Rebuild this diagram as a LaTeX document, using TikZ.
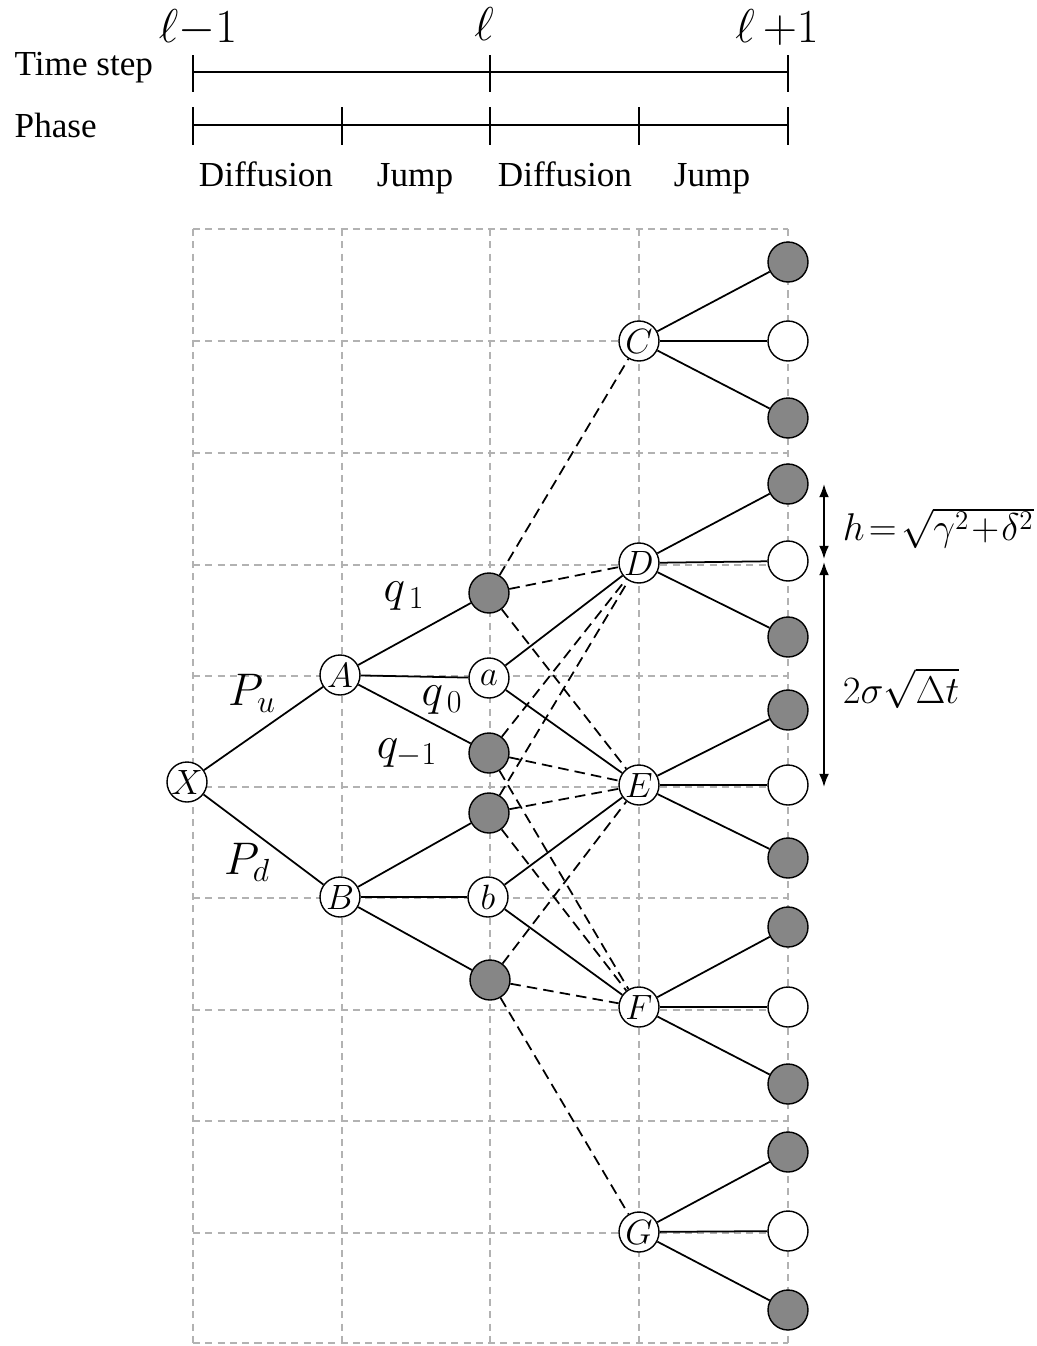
\documentclass[tikz,border=0pt]{standalone}
\usepackage{fix-cm}
\usepackage{fontspec}
\setmainfont{Liberation Serif}
\usetikzlibrary{arrows.meta}

\begin{document}
\begin{tikzpicture}[x=0.02cm, y=-0.02cm, >=Latex, line width=1pt]
\tikzset{grd/.style={draw=gray!60, dashed, dash pattern=on 4pt off 3pt, line width=0.6pt}, state/.style={circle, draw, fill=white, minimum size=0.8cm, inner sep=0pt, line width=0.8pt, font=\fontsize{20}{20}\selectfont}, dark/.style={state, fill=gray!95}, light/.style={state}, jmp/.style={dashed, dash pattern=on 6pt off 3.5pt}, big/.style={inner sep=0pt, font=\fontsize{27}{29}\selectfont}, txt/.style={font=\fontsize{20}{21}\selectfont}, prob/.style={font=\fontsize{22}{24}\selectfont}, pq/.style={font=\fontsize{26}{28}\selectfont}}
\useasboundingbox (0,0) rectangle (1037,1346);
% time axis
\draw (193,72) -- (788,72);
\foreach \x in {193,490,788} \draw (\x,55) -- (\x,92);
\draw (193,125) -- (788,125);
\foreach \x in {193,342,490,639,788} \draw (\x,107) -- (\x,145);
\node[big, anchor=base] (lm) at (198,42) {$\ell{-}1$};
\node[big, anchor=base] (l0) at (484,40) {$\ell$};
\node[big, anchor=base] (lp) at (777,42) {$\ell\,{+}1$};
\node[txt, anchor=west] (ts) at (8,68) {Time step};
\node[txt, anchor=west] (ph) at (8,125) {Phase};
\foreach \x/\t in {266/Diffusion,415/Jump,565/Diffusion,712/Jump} \node[txt, anchor=base] at (\x,186) {\t};
% grid
\foreach \x in {193,342,490,639,788} \draw[grd] (\x,229) -- (\x,1343);
\foreach \y in {229,341,453,565,676,787,898,1010,1121,1233,1343} \draw[grd] (193,\y) -- (788,\y);
% tree
\node[state] (X) at (187,782) {$X$};
\node[state] (A) at (340,675) {$A$};
\node[state] (B) at (340,897) {$B$};
\node[dark] (g1) at (489,593) {};
\node[state] (a) at (489,678) {$a$};
\node[dark] (g2) at (489,753) {};
\node[dark] (g3) at (489,813) {};
\node[state] (b) at (488,897) {$b$};
\node[dark] (g4) at (490,980) {};
\foreach \n/\y in {C/341,D/563,E/785,F/1007,G/1232} \node[state] (\n) at (639,\y) {$\n$};
\foreach \n/\ya/\yb/\yc in {C/262/341/418,D/484/561/637,E/710/785/858,F/927/1007/1084,G/1152/1231/1310} {
  \node[dark] (\n1) at (788,\ya) {};
  \node[light] (\n2) at (788,\yb) {};
  \node[dark] (\n3) at (788,\yc) {};
  \foreach \k in {1,2,3} \draw (\n) -- (\n\k);
}
\foreach \a/\b in {X/A,X/B,A/g1,A/a,A/g2,B/g3,B/b,B/g4,a/D,a/E,b/E,b/F} \draw (\a) -- (\b);
\foreach \a/\b in {g1/C,g1/D,g1/E,g2/D,g2/E,g2/F,g3/D,g3/E,g3/F,g4/E,g4/F,g4/G} \draw[jmp] (\a) -- (\b);
% probabilities
\node[pq] (pu) at (252,693) {$P_u$};
\node[pq] (pd) at (247,862) {$P_d$};
\node[pq] (q1) at (404,596) {$q_{\,1}$};
\node[pq] (q0) at (442,700) {$q_{\,0}$};
\node[pq] (qm) at (407,753) {$q_{-1}$};
% spacing
\coordinate (h1) at (824,484);
\coordinate (h2) at (824,559);
\coordinate (h3) at (824,562);
\coordinate (h4) at (824,787);
\draw[<->] (h1) -- (h2);
\draw[<->] (h3) -- (h4);
\node[prob, anchor=west, inner sep=0pt] (hl) at (842,528) {$h\!=\!\sqrt{\gamma^2\!+\!\delta^2}$};
\node[prob, anchor=west, inner sep=0pt] (sl) at (842,688) {$2\sigma\sqrt{\Delta t}$};
\end{tikzpicture}
\end{document}
